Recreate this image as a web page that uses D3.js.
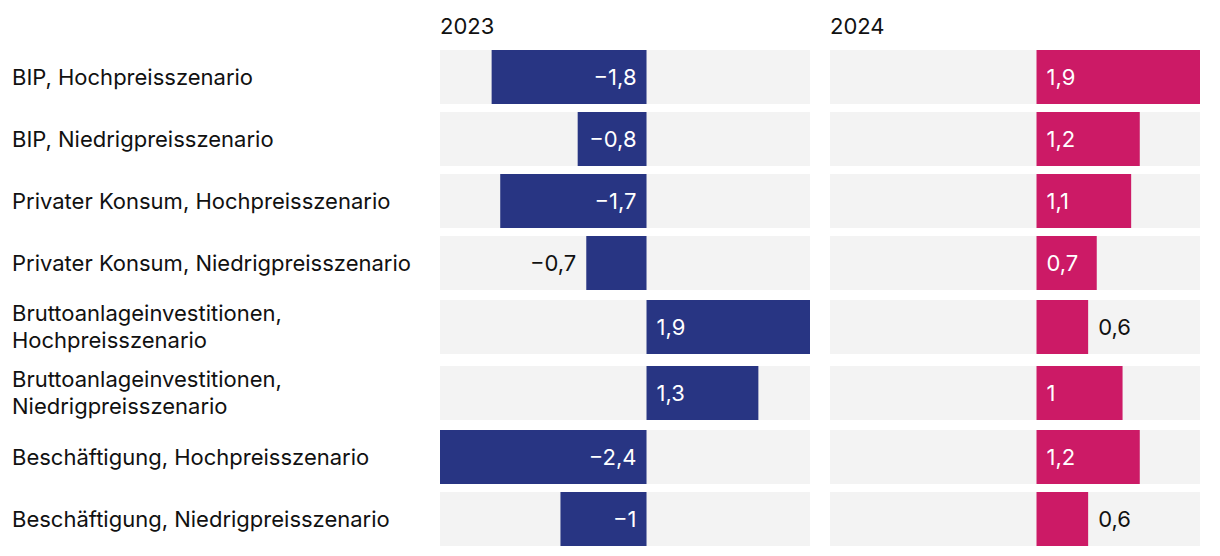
<!DOCTYPE html>
<html><head><meta charset="utf-8">
<script src="https://cdn.jsdelivr.net/npm/d3@7"></script>
<style>
html,body{margin:0;padding:0;background:#fff;}
svg{display:block;font-family:Inter,"Noto Sans",sans-serif;}
</style></head>
<body>
<svg id="chart" width="1220" height="556"></svg>
<script>
const categories = [
  ["BIP, Hochpreisszenario"],
  ["BIP, Niedrigpreisszenario"],
  ["Privater Konsum, Hochpreisszenario"],
  ["Privater Konsum, Niedrigpreisszenario"],
  ["Bruttoanlageinvestitionen,", "Hochpreisszenario"],
  ["Bruttoanlageinvestitionen,", "Niedrigpreisszenario"],
  ["Beschäftigung, Hochpreisszenario"],
  ["Beschäftigung, Niedrigpreisszenario"]
];
const years = ["2023", "2024"];
const values2023 = [-1.8, -0.8, -1.7, -0.7, 1.9, 1.3, -2.4, -1];
const values2024 = [1.9, 1.2, 1.1, 0.7, 0.6, 1, 1.2, 0.6];
const seriesColors = ["#283583", "#cc1a66"];
const domain = [-2.4, 1.9];

const svg = d3.select("#chart");
const fontSize = 22;
const barH = 54, gap = 8, extraPad = 2, top0 = 50;

const rows = [];
let y = top0;
categories.forEach((c, i) => {
  const pad = c.length > 1 ? extraPad : 0;
  const barTop = y + pad;
  rows.push({label: c, barTop});
  y = barTop + barH + pad + gap;
});

const fmt = v => {
  let s = d3.format(".1~f")(Math.abs(v)).replace(".", ",");
  return (v < 0 ? "\u2212" : "") + s;
};

rows.forEach(r => {
  const cy = r.barTop + barH / 2;
  const t = svg.append("text")
    .attr("x", 12)
    .attr("font-size", fontSize)
    .attr("fill", "#111");
  const n = r.label.length;
  const lh = 27;
  r.label.forEach((line, j) => {
    t.append("tspan")
      .attr("x", 12)
      .attr("y", cy + (j - (n - 1) / 2) * lh)
      .attr("dy", "0.35em")
      .text(line);
  });
});

const panels = [
  {year: years[0], vals: values2023, range: [440, 810], color: seriesColors[0]},
  {year: years[1], vals: values2024, range: [830, 1200], color: seriesColors[1]}
];

panels.forEach(p => {
  const x = d3.scaleLinear().domain(domain).range(p.range);
  const g = svg.append("g");
  g.append("text")
    .attr("x", p.range[0])
    .attr("y", 34)
    .attr("font-size", fontSize)
    .attr("fill", "#111")
    .text(p.year);
  rows.forEach((r, i) => {
    const v = p.vals[i];
    g.append("rect")
      .attr("x", p.range[0]).attr("y", r.barTop)
      .attr("width", p.range[1] - p.range[0]).attr("height", barH)
      .attr("fill", "#f3f3f3");
    const x0 = x(0), x1 = x(v);
    g.append("rect")
      .attr("x", Math.min(x0, x1)).attr("y", r.barTop)
      .attr("width", Math.abs(x1 - x0)).attr("height", barH)
      .attr("fill", p.color);
    const lbl = g.append("text")
      .attr("y", r.barTop + barH / 2)
      .attr("dy", "0.35em")
      .attr("font-size", fontSize)
      .text(fmt(v));
    const tw = lbl.node().getComputedTextLength();
    const bw = Math.abs(x1 - x0);
    const inside = bw >= tw + 20;
    if (v < 0) {
      if (inside) lbl.attr("x", x0 - 10).attr("text-anchor", "end").attr("fill", "#fff");
      else lbl.attr("x", x1 - 10).attr("text-anchor", "end").attr("fill", "#111");
    } else {
      if (inside) lbl.attr("x", x0 + 10).attr("text-anchor", "start").attr("fill", "#fff");
      else lbl.attr("x", x1 + 10).attr("text-anchor", "start").attr("fill", "#111");
    }
  });
});
</script>
</body></html>
